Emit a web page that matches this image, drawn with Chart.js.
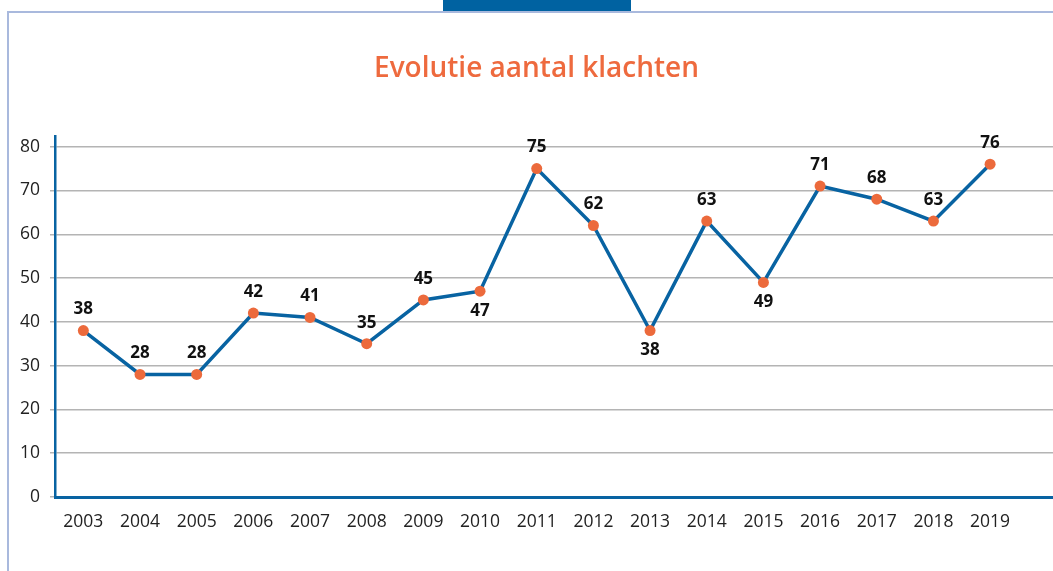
<!DOCTYPE html>
<html>
<head>
<meta charset="utf-8">
<script src="https://cdn.jsdelivr.net/npm/chart.js@4/dist/chart.umd.min.js"></script>
<style>
  html, body { margin: 0; padding: 0; background: #fff; }
  #wrap { position: relative; width: 1053px; height: 571px; overflow: hidden; }
  #frameTop { position: absolute; left: 7px; top: 11px; width: 1046px; height: 2px; background: #a9b9dd; }
  #frameLeft { position: absolute; left: 7px; top: 11px; width: 2px; height: 560px; background: #a9b9dd; }
  #tab { position: absolute; left: 443px; top: 0; width: 188px; height: 11px; background: #0062a1; }
  canvas { position: absolute; left: 0; top: 0; }
</style>
</head>
<body>
<div id="wrap">
  <div id="frameTop"></div>
  <div id="frameLeft"></div>
  <div id="tab"></div>
  <canvas id="c" width="1053" height="571"></canvas>
</div>
<script>
const title = 'Evolutie aantal klachten';
const years = [2003, 2004, 2005, 2006, 2007, 2008, 2009, 2010, 2011, 2012, 2013, 2014, 2015, 2016, 2017, 2018, 2019];
const complaints = [38, 28, 28, 42, 41, 35, 45, 47, 75, 62, 38, 63, 49, 71, 68, 63, 76];
const labelBelow = [false, false, false, false, false, false, false, true, false, false, true, false, true, false, false, false, false];
const yTicks = [0, 10, 20, 30, 40, 50, 60, 70, 80];

const points = years.map((y, i) => ({ x: y, y: complaints[i] }));

const valueLabels = {
  id: 'valueLabels',
  afterDatasetsDraw(chart) {
    const ctx = chart.ctx;
    const meta = chart.getDatasetMeta(0);
    ctx.save();
    ctx.font = 'bold 17px "Open Sans"';
    ctx.fillStyle = '#111';
    ctx.textAlign = 'center';
    ctx.textBaseline = 'middle';
    meta.data.forEach((pt, i) => {
      const dy = labelBelow[i] ? 20 : -21;
      ctx.fillText(String(complaints[i]), pt.x, pt.y + dy);
    });
    ctx.restore();
  }
};

new Chart(document.getElementById('c'), {
  type: 'line',
  data: {
    datasets: [{
      data: points,
      borderColor: '#0863a2',
      borderWidth: 3.5,
      pointBackgroundColor: '#ec6a3c',
      pointBorderColor: '#ec6a3c',
      pointRadius: 5.5,
      pointBorderWidth: 0,
      tension: 0
    }]
  },
  options: {
    responsive: false,
    animation: false,
    devicePixelRatio: 1,
    layout: { autoPadding: false, padding: { left: 20, right: 0, top: 0, bottom: 0 } },
    plugins: {
      legend: { display: false },
      tooltip: { enabled: false },
      title: {
        display: true,
        text: title,
        color: '#ee6a3e',
        font: { family: '"Open Sans"', size: 28, weight: '600', lineHeight: 1.2 },
        padding: { top: 52, bottom: 51 }
      }
    },
    scales: {
      x: {
        type: 'linear',
        min: 2002.5,
        max: 2020.11,
        afterBuildTicks: (s) => { s.ticks = years.map(v => ({ value: v })); },
        afterFit: (s) => { s.height = 74; s.paddingLeft = 0; s.paddingRight = 0; },
        ticks: {
          stepSize: 1,
          padding: 15,
          color: '#222',
          font: { family: '"Open Sans"', size: 17.5 },
          callback: (v) => String(v),
          maxRotation: 0,
          autoSkip: false
        },
        grid: { display: false, drawTicks: false },
        border: { display: true, color: '#0863a2', width: 3 }
      },
      y: {
        min: 0,
        max: 82.3,
        afterBuildTicks: (s) => { s.ticks = yTicks.map(v => ({ value: v })); },
        afterFit: (s) => { s.width = 35; },
        ticks: {
          padding: 10,
          color: '#222',
          font: { family: '"Open Sans"', size: 17.5 }
        },
        grid: { color: '#b4b4b4', lineWidth: 1.5, tickLength: 5 },
        border: { display: true, color: '#0863a2', width: 2.5 }
      }
    }
  },
  plugins: [valueLabels]
});
</script>
</body>
</html>
